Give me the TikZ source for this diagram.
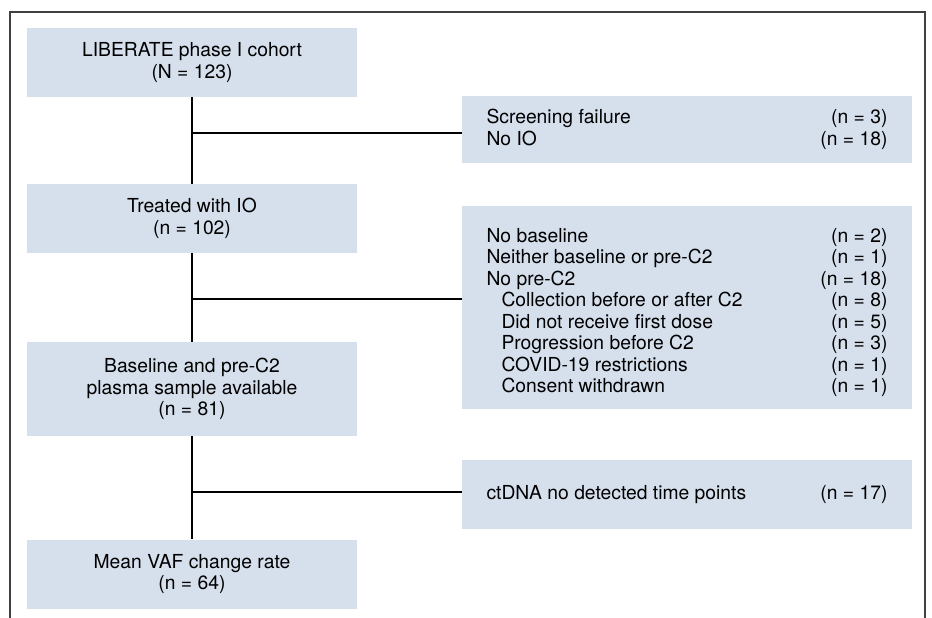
\documentclass[tikz,border=0pt]{standalone}
\usepackage{fontspec}
\setmainfont{TeX Gyre Heros}
\definecolor{boxfill}{RGB}{214,223,236}
\newcommand{\exrow}[2]{\hbox to 401pt{#1\hfil #2}}
\newcommand{\subrow}[2]{\hbox to 401pt{\hspace*{15pt}#1\hfil #2}}

\begin{document}
\begin{tikzpicture}[x = 1pt, y = -1pt,
	flowbox/.style = {fill = boxfill, minimum width = 330pt, minimum height = 69pt, align = center, inner sep = 0pt},
	exclbox/.style = {fill = boxfill, minimum width = 450pt, align = left, inner sep = 0pt},
	link/.style = {line width = 2pt},
	branch/.style = {line width = 1.5pt},
	font = \fontsize{19.3}{21.5}\selectfont]
	\useasboundingbox (0,0) rectangle (932,618);
	\draw[color = black!75, line width = 1.2pt] (10,618) -- (10,12) -- (925,12) -- (925,618);

	\node[flowbox] (cohort) at (192,62.5) {LIBERATE phase I cohort\\(N = 123)};
	\node[flowbox] (treated) at (192,218.5) {Treated with IO\\(n = 102)};
	\node[flowbox, minimum height = 94pt] (plasma) at (192,389) {Baseline and pre-C2\\plasma sample available\\(n = 81)};
	\node[flowbox] (vafrate) at (192,574) {Mean VAF change rate\\(n = 64)};

	\node[exclbox, minimum height = 67pt] (noio) at (687,129.5) {\exrow{Screening failure}{(n = 3)}\\
		\exrow{No IO}{(n = 18)}};
	\node[exclbox, minimum height = 203pt] (nosample) at (687,307.5) {\rule{0pt}{24pt}\exrow{No baseline}{(n = 2)}\\
		\exrow{Neither baseline or pre-C2}{(n = 1)}\\
		\exrow{No pre-C2}{(n = 18)}\\
		\subrow{Collection before or after C2}{(n = 8)}\\
		\subrow{Did not receive first dose}{(n = 5)}\\
		\subrow{Progression before C2}{(n = 3)}\\
		\subrow{COVID-19 restrictions}{(n = 1)}\\
		\subrow{Consent withdrawn}{(n = 1)}};
	\node[exclbox, minimum height = 69pt] (nodetect) at (687,494.5) {\exrow{ctDNA no detected time points}{(n = 17)}};

	\coordinate (split1) at (192,133);
	\coordinate (split2) at (192,299);
	\coordinate (split3) at (192,492);

	\draw[link] (cohort) -- (treated);
	\draw[link] (treated) -- (plasma);
	\draw[link] (plasma) -- (vafrate);
	\draw[branch] (split1) -- (split1 -| noio.west);
	\draw[branch] (split2) -- (split2 -| nosample.west);
	\draw[branch] (split3) -- (split3 -| nodetect.west);
\end{tikzpicture}
\end{document}
